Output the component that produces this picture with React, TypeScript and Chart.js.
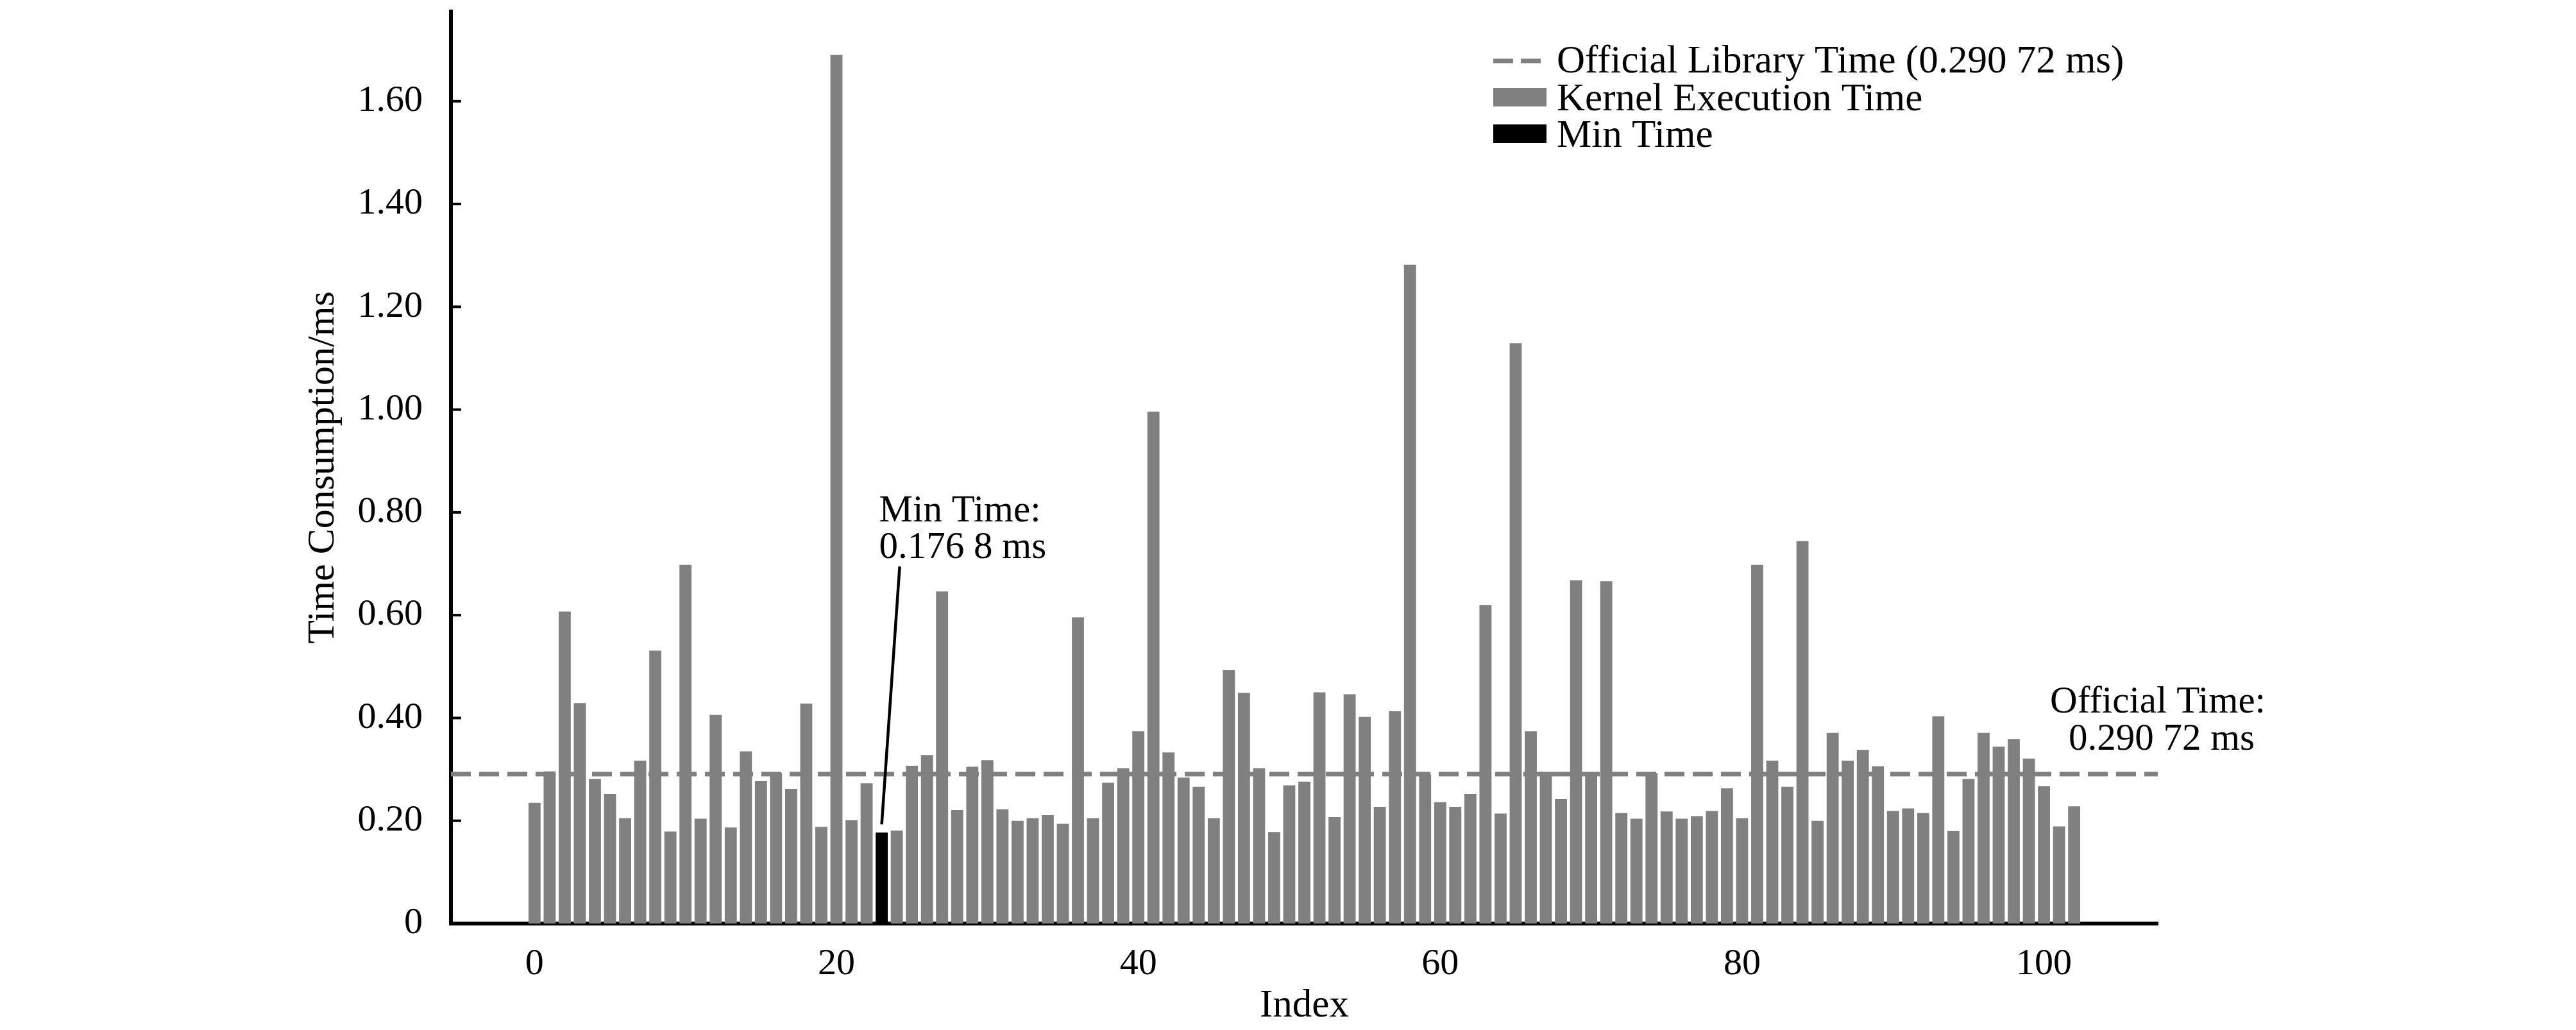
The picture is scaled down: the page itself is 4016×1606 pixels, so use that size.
import { useEffect, useRef } from "react";
import { Chart, registerables } from "chart.js";

Chart.register(...registerables);

// ---------------- data ----------------
const KERNEL_TIMES: number[] = [
  0.235, 0.296, 0.607, 0.429, 0.281, 0.252, 0.205, 0.317, 0.531, 0.179,
  0.698, 0.204, 0.406, 0.187, 0.335, 0.277, 0.293, 0.262, 0.428, 0.188,
  1.690, 0.201, 0.273, 0.1768, 0.181, 0.307, 0.328, 0.646, 0.221, 0.305,
  0.318, 0.222, 0.200, 0.205, 0.211, 0.194, 0.596, 0.205, 0.274, 0.302,
  0.374, 0.996, 0.333, 0.284, 0.266, 0.205, 0.493, 0.449, 0.302, 0.178,
  0.269, 0.276, 0.450, 0.207, 0.446, 0.402, 0.227, 0.413, 1.282, 0.290,
  0.236, 0.227, 0.252, 0.620, 0.214, 1.129, 0.374, 0.295, 0.242, 0.668,
  0.287, 0.666, 0.215, 0.204, 0.293, 0.218, 0.204, 0.209, 0.219, 0.263,
  0.205, 0.698, 0.317, 0.266, 0.744, 0.200, 0.371, 0.317, 0.338, 0.306,
  0.219, 0.224, 0.215, 0.403, 0.180, 0.281, 0.371, 0.344, 0.359, 0.321,
  0.267, 0.189, 0.228,
];
const INDICES: number[] = KERNEL_TIMES.map((_, i) => i);

const MIN_INDEX = 23;
const MIN_TIME = 0.1768;
const OFFICIAL_TIME = 0.29072;

const X_TICKS: number[] = [0, 20, 40, 60, 80, 100];
const X_TICK_LABELS: string[] = ["0", "20", "40", "60", "80", "100"];
const Y_TICKS: number[] = [0, 0.2, 0.4, 0.6, 0.8, 1.0, 1.2, 1.4, 1.6];
const Y_TICK_LABELS: string[] = ["0", "0.20", "0.40", "0.60", "0.80", "1.00", "1.20", "1.40", "1.60"];

const LABEL_OFFICIAL = "Official Library Time (0.290 72 ms)";
const LABEL_KERNEL = "Kernel Execution Time";
const LABEL_MIN = "Min Time";
const MIN_NOTE: string[] = ["Min Time:", "0.176 8 ms"];
const OFFICIAL_NOTE: string[] = ["Official Time:", "0.290 72 ms"];

// axis ranges (matplotlib-like margins)
const X_MIN = -5.54;
const X_MAX = 107.54;
const Y_MAX = 1.7745;

// annotation anchors (data coordinates)
const MIN_NOTE_POS = { x: 22.83, y: 0.782 };
const MIN_LINE_TOP = { x: 24.19, y: 0.6945 };
const OFFICIAL_NOTE_POS = { x: X_MAX, y: 0.41 };

// ---------------- style ----------------
const FONT = "'Liberation Serif', 'Times New Roman', serif";
const GRAY = "#808080";

const overlayPlugin = {
  id: "overlay",
  afterDraw(chart: any) {
    const ctx: CanvasRenderingContext2D = chart.ctx;
    const xs = chart.scales.x;
    const ys = chart.scales.y;
    const area = chart.chartArea;
    ctx.save();

    // inward y tick marks
    ctx.strokeStyle = "#000";
    ctx.lineWidth = 4;
    Y_TICKS.forEach((v) => {
      const y = ys.getPixelForValue(v);
      ctx.beginPath();
      ctx.moveTo(area.left, y);
      ctx.lineTo(area.left + 16, y);
      ctx.stroke();
    });

    // min-time annotation
    ctx.fillStyle = "#000";
    ctx.font = `59px ${FONT}`;
    ctx.textAlign = "left";
    ctx.textBaseline = "alphabetic";
    const mx = xs.getPixelForValue(MIN_NOTE_POS.x);
    const my = ys.getPixelForValue(MIN_NOTE_POS.y);
    MIN_NOTE.forEach((t, i) => ctx.fillText(t, mx, my + i * 57));
    ctx.lineWidth = 4.5;
    ctx.beginPath();
    ctx.moveTo(xs.getPixelForValue(MIN_LINE_TOP.x), ys.getPixelForValue(MIN_LINE_TOP.y));
    ctx.lineTo(xs.getPixelForValue(MIN_INDEX), ys.getPixelForValue(MIN_TIME) - 13);
    ctx.stroke();

    // official-time annotation
    ctx.textAlign = "center";
    const ox = xs.getPixelForValue(OFFICIAL_NOTE_POS.x);
    const oy = ys.getPixelForValue(OFFICIAL_NOTE_POS.y);
    OFFICIAL_NOTE.forEach((t, i) => ctx.fillText(t, ox + (i === 1 ? 6 : 0), oy + i * 58));

    // legend
    const ds = chart.data.datasets;
    const lx = area.right - 1036;
    const top = area.top;
    ctx.font = `61px ${FONT}`;
    ctx.textAlign = "left";
    // dashed line sample
    ctx.strokeStyle = ds[0].borderColor;
    ctx.lineWidth = 7;
    ctx.setLineDash([31, 12]);
    ctx.beginPath();
    ctx.moveTo(lx, top + 77);
    ctx.lineTo(lx + 74, top + 77);
    ctx.stroke();
    ctx.setLineDash([]);
    ctx.fillStyle = "#000";
    ctx.fillText(ds[0].label, lx + 99, top + 95);
    // kernel box
    ctx.fillStyle = ds[2].backgroundColor;
    ctx.fillRect(lx, top + 119, 83, 29);
    ctx.fillStyle = "#000";
    ctx.fillText(ds[2].label, lx + 99, top + 154);
    // min box
    ctx.fillStyle = ds[1].backgroundColor;
    ctx.fillRect(lx, top + 176, 83, 29);
    ctx.fillStyle = "#000";
    ctx.fillText(ds[1].label, lx + 99, top + 211);

    ctx.restore();
  },
};

export default function App() {
  const canvasRef = useRef<HTMLCanvasElement | null>(null);

  useEffect(() => {
    if (!canvasRef.current) return;
    const chart = new Chart(canvasRef.current, {
      type: "bar",
      data: {
        datasets: [
          {
            type: "line",
            label: LABEL_OFFICIAL,
            data: [
              { x: X_MIN, y: OFFICIAL_TIME },
              { x: X_MAX, y: OFFICIAL_TIME },
            ],
            borderColor: GRAY,
            borderWidth: 7,
            borderDash: [31, 13],
            pointRadius: 0,
            fill: false,
            order: 0,
          } as any,
          {
            type: "bar",
            label: LABEL_MIN,
            data: [{ x: MIN_INDEX, y: MIN_TIME }],
            backgroundColor: "#000000",
            grouped: false,
            barPercentage: 0.8,
            categoryPercentage: 1,
            order: 1,
          } as any,
          {
            type: "bar",
            label: LABEL_KERNEL,
            data: INDICES.map((i) => ({ x: i, y: KERNEL_TIMES[i] })),
            backgroundColor: GRAY,
            grouped: false,
            barPercentage: 0.8,
            categoryPercentage: 1,
            order: 2,
          } as any,
        ],
      },
      options: {
        responsive: false,
        animation: false,
        devicePixelRatio: 1,
        layout: { padding: { left: 468, top: 18, right: 652, bottom: 0 } },
        plugins: {
          legend: { display: false },
          tooltip: { enabled: false },
        },
        scales: {
          x: {
            type: "linear",
            min: X_MIN,
            max: X_MAX,
            offset: false,
            grid: { display: false, offset: false },
            border: { display: true, color: "#000", width: 6 },
            ticks: {
              color: "#000",
              font: { family: FONT, size: 58 },
              padding: 21,
              maxRotation: 0,
              callback: (_v: any, i: number) => X_TICK_LABELS[i],
            },
            afterBuildTicks: (s: any) => {
              s.ticks = X_TICKS.map((v) => ({ value: v }));
            },
            afterFit: (s: any) => {
              s.height = 166;
              s.paddingLeft = 0;
              s.paddingRight = 0;
            },
            title: {
              display: true,
              text: "Index",
              color: "#000",
              font: { family: FONT, size: 61 },
              padding: { top: 0, bottom: 0 },
            },
          } as any,
          y: {
            type: "linear",
            min: 0,
            max: Y_MAX,
            grid: { display: false },
            border: { display: true, color: "#000", width: 6 },
            ticks: {
              color: "#000",
              font: { family: FONT, size: 58 },
              padding: 36,
              callback: (_v: any, i: number) => Y_TICK_LABELS[i],
            },
            afterBuildTicks: (s: any) => {
              s.ticks = Y_TICKS.map((v) => ({ value: v }));
            },
            afterFit: (s: any) => {
              s.width = 235;
              s.paddingTop = 0;
              s.paddingBottom = 0;
            },
            title: {
              display: true,
              text: "Time Consumption/ms",
              color: "#000",
              font: { family: FONT, size: 60 },
              padding: { top: 0, bottom: 0 },
            },
          } as any,
        },
      },
      plugins: [overlayPlugin],
    } as any);
    return () => chart.destroy();
  }, []);

  return (
    <div
      style={{
        position: "absolute",
        left: 0,
        top: 0,
        width: 4016,
        height: 1606,
        background: "#fff",
      }}
    >
      <canvas ref={canvasRef} width={4016} height={1606} style={{ display: "block" }} />
    </div>
  );
}
